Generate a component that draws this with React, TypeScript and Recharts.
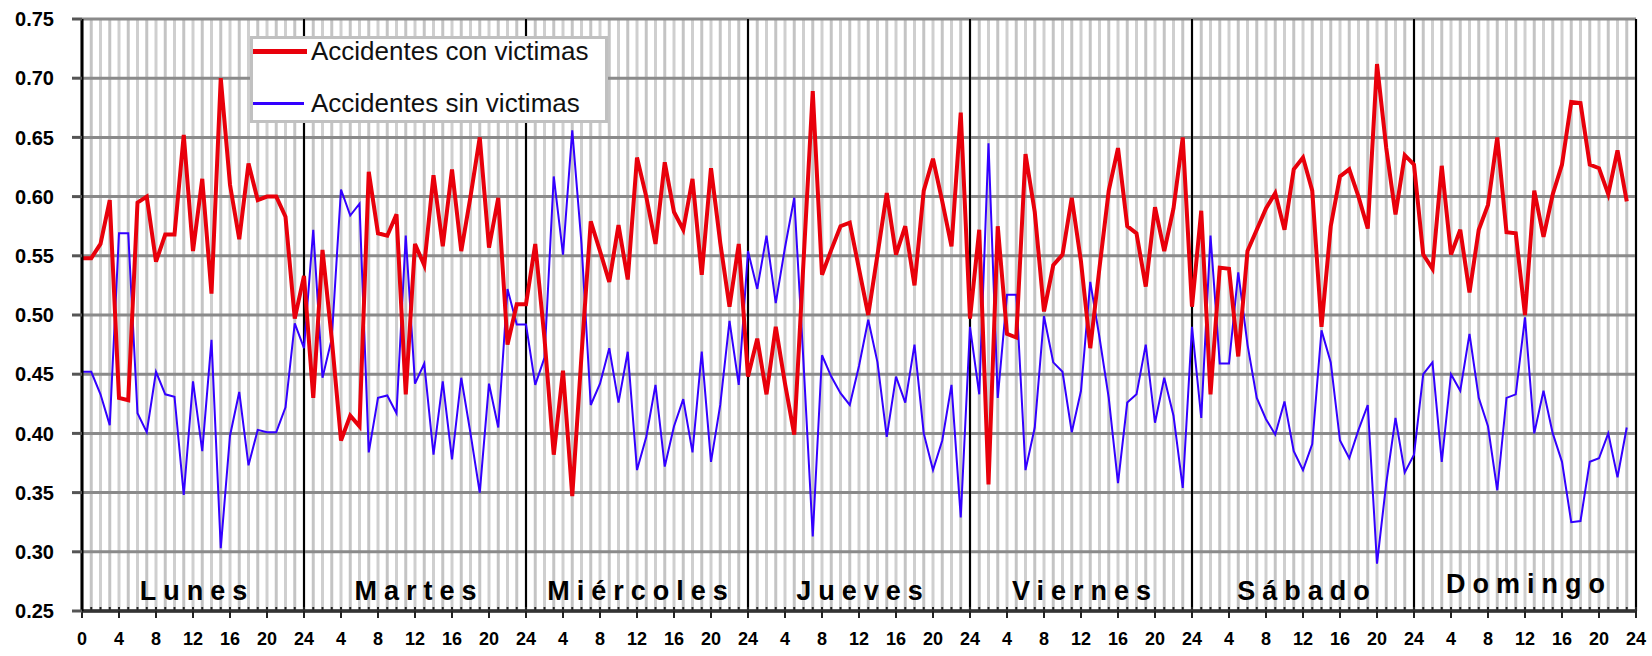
import React from "react";
import {
  LineChart,
  Line,
  XAxis,
  YAxis,
  ReferenceLine,
  ReferenceDot,
  Legend,
} from "recharts";

const dias = ["Lunes", "Martes", "Miércoles", "Jueves", "Viernes", "Sábado", "Domingo"];

// accidentes con victimas, una lista por dia (hora 0..23)
const lunesCon = [0.548, 0.548, 0.56, 0.597, 0.43, 0.428, 0.595, 0.6, 0.545, 0.568, 0.568, 0.652, 0.554, 0.615, 0.518, 0.7, 0.61, 0.564, 0.628, 0.597, 0.6, 0.6, 0.583, 0.497];
const martesCon = [0.533, 0.43, 0.555, 0.48, 0.394, 0.415, 0.406, 0.621, 0.569, 0.567, 0.585, 0.433, 0.56, 0.542, 0.618, 0.558, 0.623, 0.554, 0.6, 0.65, 0.557, 0.599, 0.475, 0.509];
const miercolesCon = [0.509, 0.56, 0.48, 0.382, 0.453, 0.347, 0.466, 0.579, 0.554, 0.528, 0.576, 0.53, 0.633, 0.6, 0.56, 0.629, 0.587, 0.572, 0.615, 0.534, 0.624, 0.561, 0.507, 0.56];
const juevesCon = [0.448, 0.48, 0.433, 0.49, 0.442, 0.399, 0.545, 0.689, 0.534, 0.555, 0.575, 0.578, 0.539, 0.5, 0.551, 0.603, 0.551, 0.575, 0.525, 0.605, 0.632, 0.596, 0.558, 0.671];
const viernesCon = [0.497, 0.572, 0.357, 0.575, 0.484, 0.481, 0.636, 0.587, 0.503, 0.542, 0.551, 0.599, 0.545, 0.472, 0.54, 0.605, 0.641, 0.575, 0.569, 0.524, 0.591, 0.554, 0.59, 0.65];
const sabadoCon = [0.507, 0.588, 0.433, 0.54, 0.539, 0.465, 0.554, 0.572, 0.59, 0.603, 0.572, 0.623, 0.633, 0.605, 0.49, 0.575, 0.617, 0.623, 0.6, 0.573, 0.712, 0.641, 0.585, 0.635];
const domingoCon = [0.627, 0.551, 0.539, 0.626, 0.551, 0.572, 0.519, 0.572, 0.593, 0.65, 0.57, 0.569, 0.5, 0.605, 0.566, 0.602, 0.627, 0.68, 0.679, 0.627, 0.624, 0.602, 0.639, 0.596];

// accidentes sin victimas
const lunesSin = [0.452, 0.452, 0.433, 0.407, 0.569, 0.569, 0.417, 0.401, 0.452, 0.433, 0.431, 0.348, 0.444, 0.385, 0.479, 0.303, 0.398, 0.435, 0.373, 0.403, 0.401, 0.401, 0.422, 0.493];
const martesSin = [0.472, 0.572, 0.447, 0.48, 0.606, 0.584, 0.594, 0.384, 0.43, 0.432, 0.417, 0.567, 0.442, 0.459, 0.382, 0.444, 0.378, 0.447, 0.4, 0.35, 0.442, 0.405, 0.522, 0.492];
const miercolesSin = [0.492, 0.441, 0.464, 0.617, 0.551, 0.656, 0.56, 0.424, 0.442, 0.472, 0.426, 0.469, 0.369, 0.397, 0.441, 0.372, 0.406, 0.429, 0.384, 0.469, 0.376, 0.424, 0.495, 0.441];
const juevesSin = [0.554, 0.522, 0.567, 0.51, 0.557, 0.599, 0.46, 0.313, 0.466, 0.448, 0.434, 0.424, 0.457, 0.496, 0.46, 0.397, 0.448, 0.426, 0.475, 0.4, 0.369, 0.394, 0.441, 0.329];
const viernesSin = [0.49, 0.433, 0.645, 0.43, 0.517, 0.517, 0.369, 0.405, 0.499, 0.46, 0.452, 0.401, 0.436, 0.528, 0.481, 0.43, 0.358, 0.426, 0.433, 0.475, 0.409, 0.447, 0.415, 0.354];
const sabadoSin = [0.49, 0.413, 0.567, 0.459, 0.459, 0.536, 0.475, 0.43, 0.412, 0.399, 0.427, 0.385, 0.369, 0.391, 0.487, 0.46, 0.394, 0.379, 0.403, 0.424, 0.29, 0.358, 0.413, 0.367];
const domingoSin = [0.382, 0.45, 0.46, 0.376, 0.45, 0.436, 0.484, 0.43, 0.406, 0.352, 0.43, 0.433, 0.498, 0.4, 0.436, 0.4, 0.376, 0.325, 0.326, 0.376, 0.379, 0.4, 0.363, 0.405];

const horaTicks = [0, 4, 8, 12, 16, 20, 24, 28, 32, 36, 40, 44, 48, 52, 56, 60, 64, 68, 72, 76, 80, 84, 88, 92, 96, 100, 104, 108, 112, 116, 120, 124, 128, 132, 136, 140, 144, 148, 152, 156, 160, 164, 168];
const valorTicks = [0.25, 0.3, 0.35, 0.4, 0.45, 0.5, 0.55, 0.6, 0.65, 0.7, 0.75];

const conVictimas = [lunesCon, martesCon, miercolesCon, juevesCon, viernesCon, sabadoCon, domingoCon].flat();
const sinVictimas = [lunesSin, martesSin, miercolesSin, juevesSin, viernesSin, sabadoSin, domingoSin].flat();

const data = conVictimas.map((v, i) => ({ hora: i, con: v, sin: sinVictimas[i] }));
const horas = Array.from({ length: 169 }, (_, i) => i);

const FONT = "'Liberation Sans', Arial, sans-serif";

function Leyenda() {
  return (
    <div
      style={{
        width: 352,
        height: 81,
        background: "#fff",
        border: "3px solid #c0c0c0",
        fontFamily: FONT,
        fontSize: 26,
        color: "#111",
        position: "relative",
      }}
    >
      <div style={{ position: "absolute", left: 0, top: 10, width: 54, height: 5, background: "#e8000b" }} />
      <div style={{ position: "absolute", left: 58, top: -2, whiteSpace: "nowrap", lineHeight: "28px" }}>
        Accidentes con victimas
      </div>
      <div style={{ position: "absolute", left: 0, top: 63, width: 51, height: 3, background: "#3300ff" }} />
      <div style={{ position: "absolute", left: 58, top: 50, whiteSpace: "nowrap", lineHeight: "28px" }}>
        Accidentes sin victimas
      </div>
    </div>
  );
}

export default function App() {
  return (
    <div style={{ position: "absolute", left: 0, top: 0, width: 1652, height: 656, background: "#fff" }}>
      <LineChart
        width={1652}
        height={656}
        data={data}
        margin={{ top: 19, right: 16, left: 0, bottom: 0 }}
      >
        {/* lineas verticales de cada hora */}
        {horas.map((h) => (
          <ReferenceLine key={"h" + h} x={h} stroke={h % 2 ? "#c4c4c4" : "#cfcfcf"} strokeWidth={3} />
        ))}
        {valorTicks.map((v) => (
          <ReferenceLine key={"v" + v} y={v} stroke="#8a8a8a" strokeWidth={3} />
        ))}
        <XAxis
          dataKey="hora"
          type="number"
          domain={[0, 168]}
          ticks={horas}
          interval={0}
          mirror
          tick={() => <g />}
          tickSize={4}
          tickLine={{ stroke: "#222", strokeWidth: 2 }}
          axisLine={{ stroke: "#333", strokeWidth: 3 }}
        />
        <XAxis
          xAxisId="main"
          dataKey="hora"
          type="number"
          domain={[0, 168]}
          ticks={horaTicks}
          interval={0}
          height={45}
          tickSize={7}
          tickMargin={14}
          tickLine={{ stroke: "#222", strokeWidth: 2 }}
          axisLine={{ stroke: "#333", strokeWidth: 3 }}
          tickFormatter={(v: number) => (v === 0 ? "0" : String(v % 24 === 0 ? 24 : v % 24))}
          tick={{ fill: "#000", fontSize: 18, fontWeight: "bold", fontFamily: FONT }}
        />
        <YAxis
          type="number"
          domain={[0.25, 0.75]}
          ticks={valorTicks}
          interval={0}
          width={82}
          tickSize={10}
          tickMargin={18}
          tickLine={{ stroke: "#555", strokeWidth: 3 }}
          axisLine={{ stroke: "#000", strokeWidth: 3 }}
          tickFormatter={(v: number) => v.toFixed(2)}
          tick={{ fill: "#000", fontSize: 20, fontWeight: "bold", fontFamily: FONT }}
        />
        {dias.map((_, i) => (
          <ReferenceLine key={"l" + i} x={24 * (i + 1)} stroke="#000" strokeWidth={2} />
        ))}
        {dias.map((d, i) => (
          <ReferenceDot
            key={d}
            x={12 + 24 * i}
            y={d === "Domingo" ? 0.2736 : 0.2677}
            r={0}
            fill="none"
            stroke="none"
            label={{
              value: d,
              position: "center",
              dx: 4,
              fill: "#000",
              fontSize: 27,
              fontWeight: "bold",
              fontFamily: FONT,
              letterSpacing: 7,
            }}
          />
        ))}
        <Legend
          layout="vertical"
          align="center"
          verticalAlign="middle"
          content={() => <Leyenda />}
          wrapperStyle={{ left: 250, top: 36, width: 358, height: 87 }}
        />
        <Line
          type="linear"
          dataKey="sin"
          stroke="#3300ff"
          strokeWidth={2}
          dot={false}
          isAnimationActive={false}
        />
        <Line
          type="linear"
          dataKey="con"
          stroke="#e8000b"
          strokeWidth={4}
          dot={false}
          isAnimationActive={false}
        />
      </LineChart>
    </div>
  );
}
